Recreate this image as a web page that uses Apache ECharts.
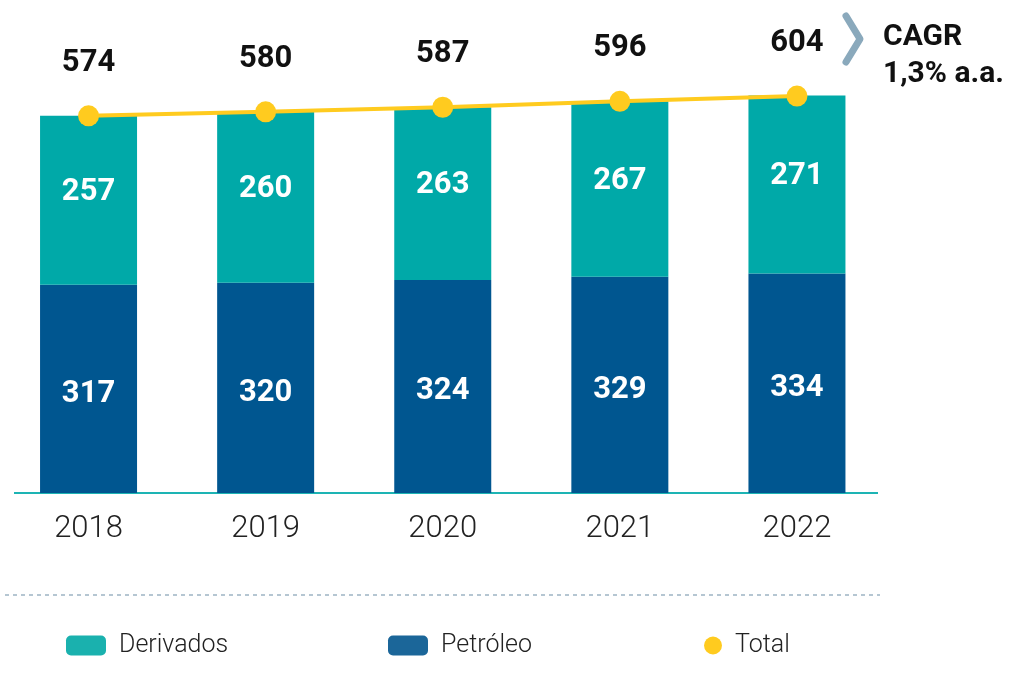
<!DOCTYPE html>
<html>
<head>
<meta charset="utf-8">
<script src="https://cdn.jsdelivr.net/npm/echarts@6/dist/echarts.min.js"></script>
<style>
  html, body { margin: 0; padding: 0; background: #ffffff; }
  #chart { width: 1010px; height: 683px; }
</style>
</head>
<body>
<div id="chart"></div>
<script>
// Consumo: petróleo e derivados, 2018–2022
const years = ['2018', '2019', '2020', '2021', '2022'];
const petroleo = [317, 320, 324, 329, 334];
const derivados = [257, 260, 263, 267, 271];
const total = [574, 580, 587, 596, 604];
const cagrTitle = 'CAGR';
const cagrValue = '1,3% a.a.';

const COLOR_DERIV = '#00A9A8';
const COLOR_PETRO = '#005690';
const COLOR_TOTAL = '#FFCB1F';
const BOLD_FONT = 'Roboto, "Noto Sans", sans-serif';
const LIGHT_FONT = 'Roboto, "Noto Sans", sans-serif';

const chart = echarts.init(document.getElementById('chart'), null, { renderer: 'canvas' });

const inBarLabel = {
  show: true,
  position: 'inside',
  color: '#ffffff',
  fontFamily: BOLD_FONT,
  fontWeight: 'bold',
  fontSize: 31
};

// one legend block per series, each placed on its own
function legendBlock(name, icon, color, left, iconW, iconH) {
  return {
    left: left,
    top: 628,
    itemWidth: iconW,
    itemHeight: iconH,
    textStyle: { fontFamily: LIGHT_FONT, fontWeight: 300, fontSize: 25, color: '#222222', padding: [0, 0, 0, 8] },
    data: [{ name: name, icon: icon, itemStyle: { color: color } }]
  };
}

chart.setOption({
  animation: false,
  backgroundColor: '#ffffff',
  grid: { left: -4.5, width: 890, top: 33, bottom: 190, containLabel: false },
  xAxis: {
    type: 'category',
    data: years,
    axisLine: { show: false },
    axisTick: { show: false },
    axisLabel: {
      color: '#222222',
      fontFamily: LIGHT_FONT,
      fontWeight: 300,
      fontSize: 31,
      margin: 21
    }
  },
  yAxis: { type: 'value', min: 0, max: 700, show: false, splitLine: { show: false } },
  legend: [
    legendBlock('Derivados', 'roundRect', '#1AB1AE', 61, 40, 20),
    legendBlock('Petróleo', 'roundRect', '#1B6699', 383, 40, 20),
    legendBlock('Total', 'circle', COLOR_TOTAL, 699, 18, 18)
  ],
  series: [
    {
      name: 'Petróleo',
      type: 'bar',
      stack: 'consumo',
      barWidth: 97,
      data: petroleo,
      itemStyle: { color: COLOR_PETRO },
      label: Object.assign({}, inBarLabel, { offset: [0, 5] })
    },
    {
      name: 'Derivados',
      type: 'bar',
      stack: 'consumo',
      barWidth: 97,
      data: derivados,
      itemStyle: { color: COLOR_DERIV },
      label: Object.assign({}, inBarLabel, { offset: [0, -8] })
    },
    {
      name: 'Total',
      type: 'line',
      data: total,
      z: 5,
      symbol: 'circle',
      symbolSize: 21,
      lineStyle: { color: COLOR_TOTAL, width: 4 },
      itemStyle: { color: COLOR_TOTAL },
      label: {
        show: true,
        position: 'top',
        distance: 27,
        color: '#111111',
        fontFamily: BOLD_FONT,
        fontWeight: 'bold',
        fontSize: 31
      }
    }
  ],
  graphic: [
    // baseline under the bars
    { type: 'line', shape: { x1: 14, y1: 493, x2: 878, y2: 493 }, style: { stroke: '#1DB4B4', lineWidth: 2 } },
    // dashed separator above the legend
    { type: 'line', shape: { x1: 5, y1: 595, x2: 880, y2: 595 }, style: { stroke: '#9DB4C4', lineWidth: 1.5, lineDash: [4, 4] } },
    // growth chevron
    { type: 'polyline', shape: { points: [[846, 16], [860, 39], [846, 62]] },
      style: { stroke: '#8AA9BC', lineWidth: 7, lineCap: 'round', lineJoin: 'round', fill: null } },
    { type: 'text', left: 883, top: 22,
      style: { text: cagrTitle, font: 'bold 30px ' + BOLD_FONT, fill: '#111111' } },
    { type: 'text', left: 883, top: 59,
      style: { text: cagrValue, font: 'bold 30px ' + BOLD_FONT, fill: '#111111' } }
  ]
});
</script>
</body>
</html>
